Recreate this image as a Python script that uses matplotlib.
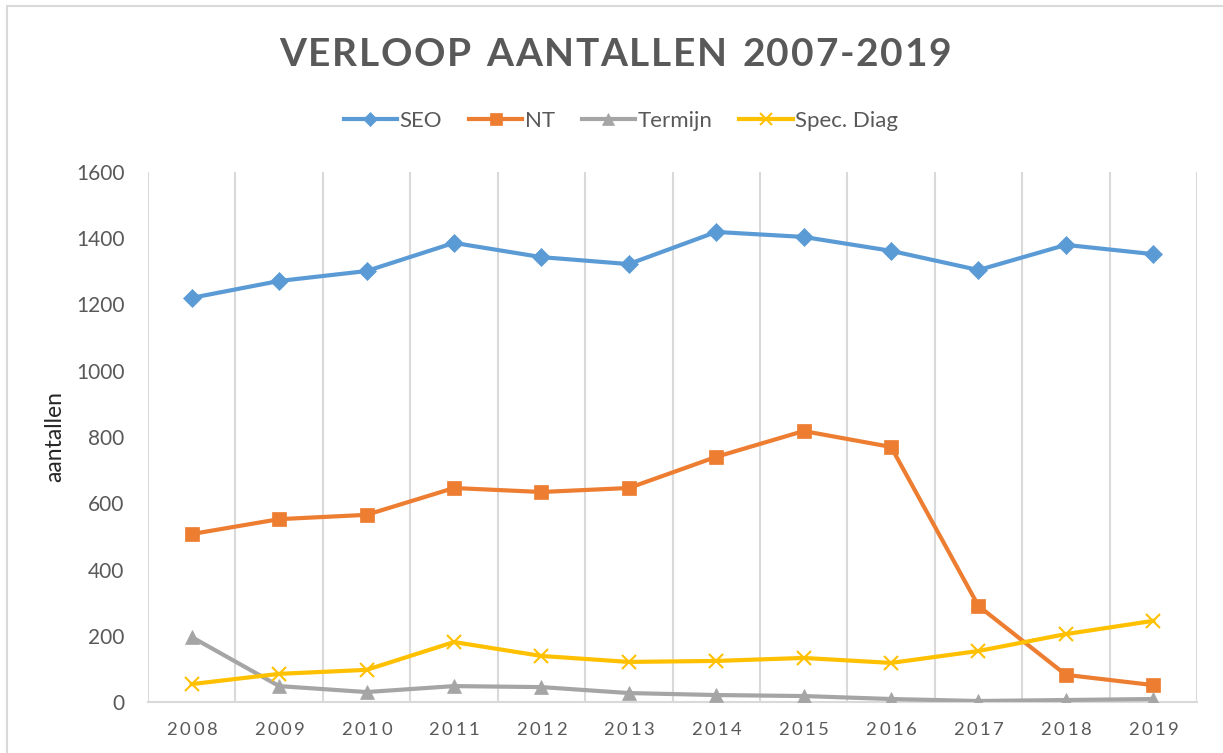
import matplotlib
matplotlib.use("Agg")
import matplotlib.pyplot as plt
from matplotlib.lines import Line2D
from matplotlib.patches import Rectangle

years = ["2008", "2009", "2010", "2011", "2012", "2013", "2014", "2015", "2016", "2017", "2018", "2019"]
seo = [1220, 1271, 1301, 1386, 1343, 1322, 1419, 1404, 1362, 1304, 1380, 1352]
nt = [507, 552, 565, 646, 634, 646, 740, 818, 770, 290, 82, 51]
termijn = [196, 48, 30, 48, 45, 27, 21, 18, 9, 3, 6, 9]
spec_diag = [54, 85, 97, 181, 139, 121, 124, 133, 118, 154, 205, 245]
series_names = ["SEO", "NT", "Termijn", "Spec. Diag"]
title = "VERLOOP AANTALLEN 2007-2019"
ylabel = "aantallen"

FONT = "Lato"
W, H = 1223, 753
fig = plt.figure(figsize=(W / 100, H / 100), dpi=100)
fig.patch.set_facecolor("white")

# chart border
fig.add_artist(Rectangle((7 / W, -0.05), 1.2, (H - 6) / H + 0.05, transform=fig.transFigure,
                         fill=False, edgecolor="#D9D9D9", linewidth=1.5))

ax = fig.add_axes([148 / W, (H - 702) / H, (1197 - 148) / W, (702 - 172) / H])
x = list(range(len(years)))
styles = [
    (seo, "#5B9BD5", "D", 9),
    (nt, "#ED7D31", "s", 10),
    (termijn, "#A5A5A5", "^", 10),
    (spec_diag, "#FFC000", "x", 10),
]
handles = []
for (vals, col, mk, ms), name in zip(styles, series_names):
    l, = ax.plot(x, vals, color=col, linewidth=3, marker=mk, markersize=ms,
                 markeredgewidth=1.5 if mk == "x" else 0.5, markeredgecolor=col,
                 markerfacecolor=col, label=name, solid_joinstyle="round", zorder=3)
    handles.append(l)

ax.set_xlim(-0.5, len(years) - 0.5)
ax.set_ylim(0, 1600)
ax.set_yticks(range(0, 1601, 200))
ax.set_yticklabels([str(v) for v in range(0, 1601, 200)], fontfamily=FONT, fontsize=15, color="#595959")
ax.set_xticks(x)
ax.set_xticklabels([])
for i in range(len(years) + 1):
    ax.axvline(i - 0.5, color="#D9D9D9", linewidth=1.5, zorder=1)
for s in ["top", "right", "left"]:
    ax.spines[s].set_visible(False)
ax.spines["bottom"].set_color("#D9D9D9")
ax.spines["bottom"].set_linewidth(1.5)
ax.tick_params(axis="both", length=0)
ax.tick_params(axis="y", pad=17)
ax.set_ylabel(ylabel, fontfamily=FONT, fontsize=16.5, color="#262626")
ax.yaxis.set_label_coords((65 - 148) / (1197 - 148), 0.5)

fig.canvas.draw()
renderer = fig.canvas.get_renderer()


def spaced_text(s, cx, cy, spacing, **kw):
    """Draw text centered at (cx, cy) in pixels with extra letter spacing (px)."""
    widths = []
    for ch in s:
        t = fig.text(0, 0, ch if ch != " " else "n", **kw)
        bb = t.get_window_extent(renderer)
        w = bb.width if ch != " " else bb.width * 0.55
        widths.append(w)
        t.remove()
    total = sum(widths) + spacing * (len(s) - 1)
    xpos = cx - total / 2
    for ch, w in zip(s, widths):
        if ch != " ":
            fig.text(xpos / W, cy / H, ch, ha="left", va="center", **kw)
        xpos += w + spacing


spaced_text(title, 615, H - 54, 1.7, fontfamily=FONT, fontweight="bold", fontsize=28, color="#595959")

for i, yr in enumerate(years):
    px = ax.transData.transform((i, 0))[0]
    spaced_text(yr, px, H - 730, 2.7, fontfamily=FONT, fontsize=13.3, color="#595959")

leg = fig.legend(handles=handles, loc="center", bbox_to_anchor=(621 / W, (H - 121) / H), ncol=4,
                 frameon=False, prop={"family": FONT, "size": 16}, handlelength=2.4,
                 columnspacing=1.2, handletextpad=0.12, markerscale=0.8)
for t in leg.get_texts():
    t.set_color("#595959")

fig.savefig("out.png", dpi=100)
